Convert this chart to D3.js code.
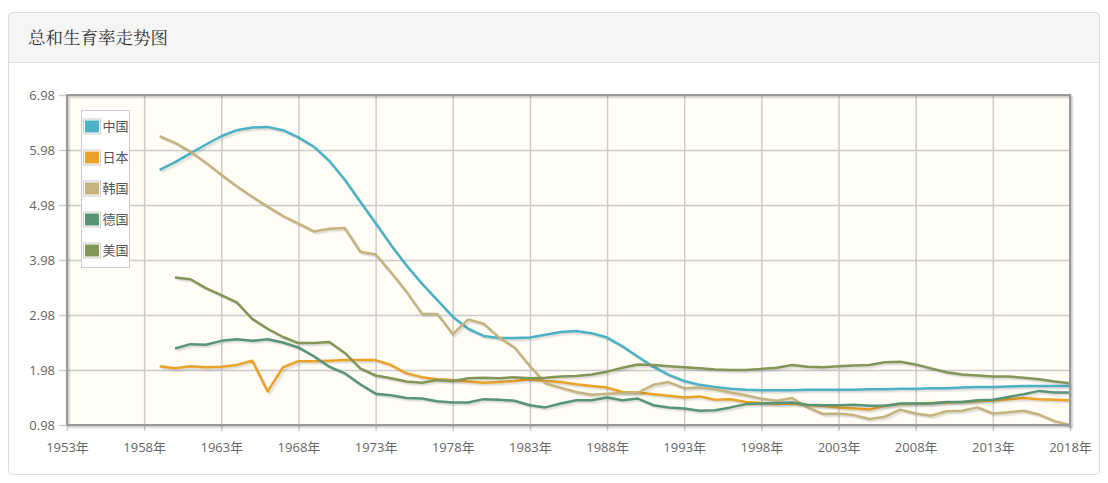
<!DOCTYPE html>
<html><head><meta charset="utf-8">
<script src="https://cdn.jsdelivr.net/npm/d3@7"></script>
<style>
html,body{margin:0;padding:0;background:#fff;}
svg{display:block;}
</style></head>
<body>
<svg id="chart" width="1108" height="483"></svg>
<script>
// ---------- data ----------
const title = "总和生育率走势图";
const seriesNames = ["中国", "日本", "韩国", "德国", "美国"];
const seriesColors = ["#4bb2c5", "#EAA228", "#c5b47f", "#579575", "#839557"];
const yearsFrom1959 = [1959,1960,1961,1962,1963,1964,1965,1966,1967,1968,1969,1970,1971,1972,1973,1974,1975,1976,1977,1978,1979,1980,1981,1982,1983,1984,1985,1986,1987,1988,1989,1990,1991,1992,1993,1994,1995,1996,1997,1998,1999,2000,2001,2002,2003,2004,2005,2006,2007,2008,2009,2010,2011,2012,2013,2014,2015,2016,2017,2018];
const yearsFrom1960 = [1960,1961,1962,1963,1964,1965,1966,1967,1968,1969,1970,1971,1972,1973,1974,1975,1976,1977,1978,1979,1980,1981,1982,1983,1984,1985,1986,1987,1988,1989,1990,1991,1992,1993,1994,1995,1996,1997,1998,1999,2000,2001,2002,2003,2004,2005,2006,2007,2008,2009,2010,2011,2012,2013,2014,2015,2016,2017,2018];
const china = [5.62,5.76,5.92,6.08,6.23,6.34,6.39,6.40,6.34,6.21,6.04,5.78,5.44,5.04,4.65,4.25,3.88,3.55,3.25,2.95,2.73,2.60,2.56,2.56,2.57,2.62,2.67,2.69,2.65,2.57,2.41,2.22,2.04,1.89,1.78,1.71,1.67,1.64,1.62,1.61,1.61,1.61,1.62,1.62,1.62,1.62,1.63,1.63,1.64,1.64,1.65,1.65,1.66,1.67,1.67,1.68,1.69,1.69,1.69,1.69];
const japan = [2.05,2.01,2.05,2.03,2.04,2.07,2.15,1.59,2.03,2.14,2.14,2.15,2.16,2.16,2.16,2.07,1.92,1.85,1.81,1.80,1.77,1.75,1.76,1.78,1.81,1.78,1.76,1.72,1.69,1.66,1.58,1.57,1.54,1.51,1.48,1.50,1.44,1.45,1.40,1.38,1.36,1.37,1.34,1.33,1.30,1.28,1.26,1.33,1.36,1.37,1.38,1.39,1.40,1.41,1.43,1.45,1.47,1.45,1.44,1.43];
const korea = [6.23,6.11,5.95,5.75,5.53,5.32,5.13,4.95,4.78,4.64,4.50,4.55,4.56,4.13,4.08,3.75,3.40,3.00,3.00,2.63,2.90,2.82,2.57,2.39,2.05,1.74,1.66,1.58,1.53,1.55,1.56,1.57,1.71,1.76,1.65,1.66,1.63,1.57,1.52,1.46,1.42,1.47,1.30,1.18,1.19,1.16,1.09,1.13,1.26,1.19,1.15,1.23,1.24,1.30,1.19,1.21,1.24,1.17,1.05,0.98];
const germany = [2.37,2.45,2.44,2.51,2.54,2.51,2.54,2.48,2.39,2.23,2.04,1.92,1.72,1.55,1.52,1.47,1.46,1.41,1.39,1.39,1.45,1.44,1.42,1.34,1.30,1.37,1.43,1.43,1.48,1.43,1.46,1.34,1.30,1.28,1.24,1.25,1.30,1.36,1.37,1.38,1.39,1.35,1.34,1.34,1.35,1.33,1.33,1.37,1.37,1.37,1.40,1.40,1.43,1.44,1.49,1.54,1.60,1.57,1.57];
const usa = [3.66,3.63,3.47,3.34,3.21,2.91,2.73,2.58,2.47,2.47,2.49,2.29,2.01,1.88,1.83,1.77,1.75,1.80,1.78,1.83,1.84,1.83,1.85,1.83,1.84,1.86,1.87,1.90,1.95,2.02,2.08,2.07,2.05,2.03,2.01,1.99,1.98,1.98,2.00,2.02,2.07,2.04,2.03,2.05,2.06,2.07,2.12,2.13,2.08,2.01,1.94,1.90,1.88,1.86,1.86,1.84,1.81,1.77,1.74];
const xTickYears = [1953,1958,1963,1968,1973,1978,1983,1988,1993,1998,2003,2008,2013,2018];
const yTickValues = [0.98,1.98,2.98,3.98,4.98,5.98,6.98];

const seriesData = [
  {years: yearsFrom1959, values: china},
  {years: yearsFrom1959, values: japan},
  {years: yearsFrom1959, values: korea},
  {years: yearsFrom1960, values: germany},
  {years: yearsFrom1960, values: usa}
];

// ---------- layout ----------
const svg = d3.select("#chart");
const panel = {x: 8.5, y: 12.5, w: 1091, h: 462, head: 50};
const plot = {left: 67, right: 1070, top: 95, bottom: 425};

// panel
svg.append("rect").attr("x", panel.x).attr("y", panel.y).attr("width", panel.w).attr("height", panel.h)
  .attr("rx", 4).attr("fill", "#fff").attr("stroke", "#dddddd");
const r = 4, hx = panel.x, hy = panel.y, hw = panel.w, hh = panel.head;
svg.append("path")
  .attr("d", `M${hx},${hy+hh} L${hx},${hy+r} Q${hx},${hy} ${hx+r},${hy} L${hx+hw-r},${hy} Q${hx+hw},${hy} ${hx+hw},${hy+r} L${hx+hw},${hy+hh} Z`)
  .attr("fill", "#f5f5f5").attr("stroke", "#dddddd");
svg.append("text").attr("x", 28).attr("y", 44)
  .attr("font-family", "'Noto Serif CJK SC','Noto Sans CJK SC', sans-serif").attr("font-size", 17.5).attr("fill", "#333")
  .text(title);

// scales
const x = d3.scaleLinear().domain([1953, 2018]).range([plot.left, plot.right]);
const y = d3.scaleLinear().domain([0.98, 6.98]).range([plot.bottom, plot.top]);

// grid background
svg.append("rect").attr("x", plot.left).attr("y", plot.top)
  .attr("width", plot.right - plot.left).attr("height", plot.bottom - plot.top)
  .attr("fill", "#fffdf6");

// grid lines via axes
const gx = svg.append("g").attr("transform", `translate(0,${plot.bottom})`)
  .call(d3.axisBottom(x).tickValues(xTickYears).tickSize(-(plot.bottom - plot.top)).tickFormat(""));
gx.select(".domain").remove();
gx.selectAll("line").attr("stroke", "#cccccc").attr("stroke-width", 1.5);
const gy = svg.append("g").attr("transform", `translate(${plot.left},0)`)
  .call(d3.axisLeft(y).tickValues(yTickValues).tickSize(-(plot.right - plot.left)).tickFormat(""));
gy.select(".domain").remove();
gy.selectAll("line").attr("stroke", "#cccccc").attr("stroke-width", 1.5);

// tick marks + labels
const ax = svg.append("g").attr("transform", `translate(0,${plot.bottom})`)
  .call(d3.axisBottom(x).tickValues(xTickYears).tickSize(6).tickPadding(12).tickFormat(d => d + "年"));
ax.select(".domain").remove();
ax.selectAll("line").attr("stroke", "#cccccc").attr("stroke-width", 1.5);
ax.selectAll("text").attr("font-family", "'Open Sans','Noto Sans CJK SC',sans-serif").attr("font-size", 13).attr("fill", "#666");

const ay = svg.append("g").attr("transform", `translate(${plot.left},0)`)
  .call(d3.axisLeft(y).tickValues(yTickValues).tickSize(8).tickPadding(4).tickFormat(d3.format(".2f")));
ay.select(".domain").remove();
ay.selectAll("line").attr("stroke", "#cccccc").attr("stroke-width", 1.5);
ay.selectAll("text").attr("font-family", "'Open Sans',sans-serif").attr("font-size", 13).attr("fill", "#666");

const line = d3.line().x(d => x(d[0])).y(d => y(d[1]));
const lines = svg.append("g");
seriesData.forEach((s, i) => {
  const pts = s.years.map((yr, k) => [yr, s.values[k]]);
  for (let j = 1; j <= 3; j++) {
    const off = 1.25 * Math.SQRT1_2 * j;
    lines.append("path").attr("d", line(pts)).attr("fill", "none")
      .attr("stroke", "rgba(0,0,0,0.05)").attr("stroke-width", 2.5)
      .attr("transform", `translate(${off},${off})`);
  }
  lines.append("path").attr("d", line(pts)).attr("fill", "none")
    .attr("stroke", seriesColors[i]).attr("stroke-width", 2.5)
    .attr("stroke-linejoin", "round").attr("stroke-linecap", "butt");
});

// grid border with shadow
for (let j = 1; j <= 3; j++) {
  const off = 1.25 * Math.SQRT1_2 * j;
  svg.append("rect").attr("x", plot.left + off).attr("y", plot.top + off)
    .attr("width", plot.right - plot.left).attr("height", plot.bottom - plot.top)
    .attr("fill", "none").attr("stroke", "rgba(0,0,0,0.07)").attr("stroke-width", 2);
}
svg.append("rect").attr("x", plot.left).attr("y", plot.top)
  .attr("width", plot.right - plot.left).attr("height", plot.bottom - plot.top)
  .attr("fill", "none").attr("stroke", "#999999").attr("stroke-width", 2);

// legend
const lg = svg.append("g").attr("transform", "translate(81,110)");
lg.append("rect").attr("x", 0.5).attr("y", 0.5).attr("width", 48).attr("height", 157)
  .attr("fill", "#ffffff").attr("stroke", "#cccccc");
seriesNames.forEach((n, i) => {
  const cy = 16.5 + i * 31;
  lg.append("rect").attr("x", 2.5).attr("y", cy - 7.5).attr("width", 17).attr("height", 15)
    .attr("fill", "none").attr("stroke", "#cccccc");
  lg.append("rect").attr("x", 4).attr("y", cy - 6).attr("width", 14).attr("height", 12)
    .attr("fill", seriesColors[i]);
  lg.append("text").attr("x", 21.5).attr("y", cy).attr("dy", "0.35em")
    .attr("font-family", "'Noto Sans CJK SC',sans-serif").attr("font-size", 13).attr("fill", "#555")
    .text(n);
});
</script>
</body></html>
